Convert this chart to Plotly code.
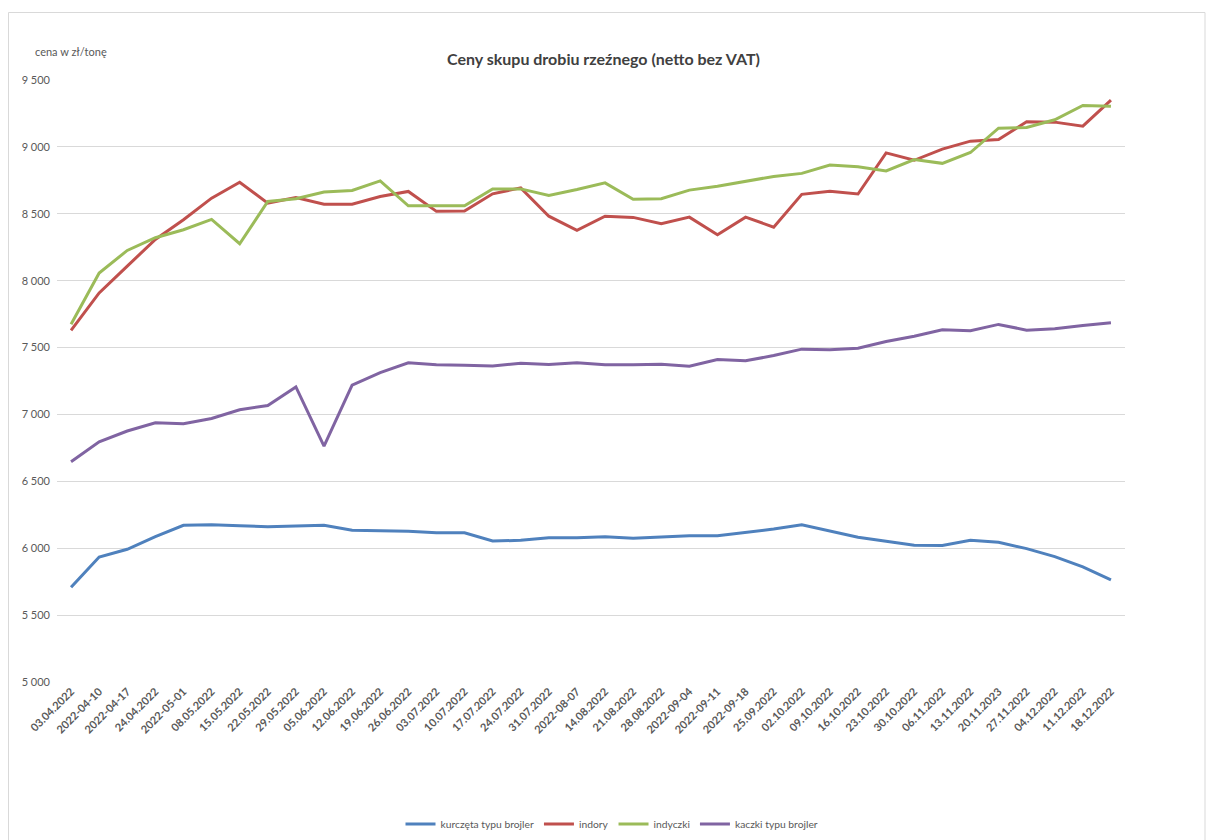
import plotly.graph_objects as go

dates = ["03.04.2022", "2022-04-10", "2022-04-17", "24.04.2022", "2022-05-01", "08.05.2022",
         "15.05.2022", "22.05.2022", "29.05.2022", "05.06.2022", "12.06.2022", "19.06.2022",
         "26.06.2022", "03.07.2022", "10.07.2022", "17.07.2022", "24.07.2022", "31.07.2022",
         "2022-08-07", "14.08.2022", "21.08.2022", "28.08.2022", "2022-09-04", "2022-09-11",
         "2022-09-18", "25.09.2022", "02.10.2022", "09.10.2022", "16.10.2022", "23.10.2022",
         "30.10.2022", "06.11.2022", "13.11.2022", "20.11.2023", "27.11.2022", "04.12.2022",
         "11.12.2022", "18.12.2022"]

kurczeta = [5708, 5934, 5992, 6086, 6171, 6176, 6168, 6161, 6166, 6171, 6134, 6131,
            6127, 6116, 6116, 6054, 6059, 6079, 6079, 6086, 6074, 6084, 6094, 6094,
            6116, 6143, 6176, 6131, 6082, 6052, 6022, 6020, 6059, 6044, 5997, 5937,
            5860, 5763]

indory = [7629, 7908, 8109, 8308, 8455, 8617, 8736, 8580, 8622, 8572, 8572, 8629,
          8667, 8518, 8520, 8649, 8694, 8482, 8376, 8482, 8473, 8425, 8475, 8343,
          8475, 8400, 8645, 8668, 8648, 8955, 8900, 8983, 9043, 9055, 9188, 9185,
          9155, 9350]

indyczki = [7674, 8057, 8226, 8321, 8381, 8458, 8276, 8592, 8612, 8662, 8674, 8746,
            8560, 8560, 8560, 8686, 8686, 8637, 8681, 8731, 8609, 8612, 8677, 8706,
            8741, 8779, 8802, 8865, 8852, 8820, 8905, 8877, 8958, 9140, 9145, 9203,
            9310, 9303]

kaczki = [6647, 6796, 6876, 6938, 6930, 6970, 7035, 7067, 7206, 6764, 7219, 7313,
          7386, 7371, 7368, 7363, 7383, 7373, 7386, 7371, 7371, 7376, 7361, 7411,
          7401, 7440, 7488, 7483, 7495, 7545, 7585, 7633, 7625, 7673, 7630, 7640,
          7665, 7685]

series = [
    ("kurczęta typu brojler", kurczeta, "#4F81BD"),
    ("indory", indory, "#C0504D"),
    ("indyczki", indyczki, "#9BBB59"),
    ("kaczki typu brojler", kaczki, "#8064A2"),
]

FONT = "Lato, 'Open Sans', sans-serif"

fig = go.Figure()
for name, vals, col in series:
    fig.add_trace(go.Scatter(x=dates, y=vals, name=name, mode="lines",
                             line=dict(color=col, width=3)))

W, H = 1206, 840
ml, mr, mt, mb = 57, 81, 80, 158
pw, ph = W - ml - mr, H - mt - mb

def px_x(p):
    return (p - ml) / pw

def px_y(p):
    return 1 - (p - mt) / ph

fig.update_layout(
    width=W, height=H,
    margin=dict(l=ml, r=mr, t=mt, b=mb, pad=0, autoexpand=False),
    plot_bgcolor="white", paper_bgcolor="white",
    separators=", ",
    font=dict(family=FONT, color="#595959", size=11),
    showlegend=True,
    legend=dict(orientation="h", x=px_x(612), xanchor="center", y=px_y(824), yanchor="middle",
                font=dict(size=10.3, color="#595959", family=FONT), itemwidth=30,
                tracegroupgap=0),
    xaxis=dict(type="category", tickangle=-45, showgrid=False, showline=False,
               ticks="", automargin=False,
               tickfont=dict(size=11, color="#595959", family=FONT, weight="bold"),
               range=[-0.5, len(dates) - 0.5]),
    yaxis=dict(range=[5000, 9500], dtick=500, tickformat=",d", showgrid=True,
               gridcolor="#D9D9D9", gridwidth=1, zeroline=False, showline=False,
               ticks="", automargin=False, ticklabelstandoff=6,
               tickfont=dict(size=11, color="#595959", family=FONT)),
    annotations=[
        dict(text="<b>Ceny skupu drobiu rzeźnego (netto bez VAT)</b>", xref="paper", yref="paper",
             x=px_x(603), y=px_y(58), xanchor="center", yanchor="middle", showarrow=False,
             font=dict(size=16, color="#404040", family=FONT)),
        dict(text="cena w zł/tonę", xref="paper", yref="paper",
             x=px_x(33), y=px_y(52), xanchor="left", yanchor="middle", showarrow=False,
             font=dict(size=11, color="#595959", family=FONT)),
    ],
    shapes=[
        dict(type="rect", xref="paper", yref="paper",
             x0=px_x(8.5), x1=px_x(1205), y0=px_y(845), y1=px_y(12.5),
             line=dict(color="#D9D9D9", width=1), fillcolor="rgba(0,0,0,0)", layer="below"),
    ],
)

fig.write_html("out.html", config={"displayModeBar": False},
               post_script="document.body.style.margin='0px';document.body.style.overflow='hidden';")
